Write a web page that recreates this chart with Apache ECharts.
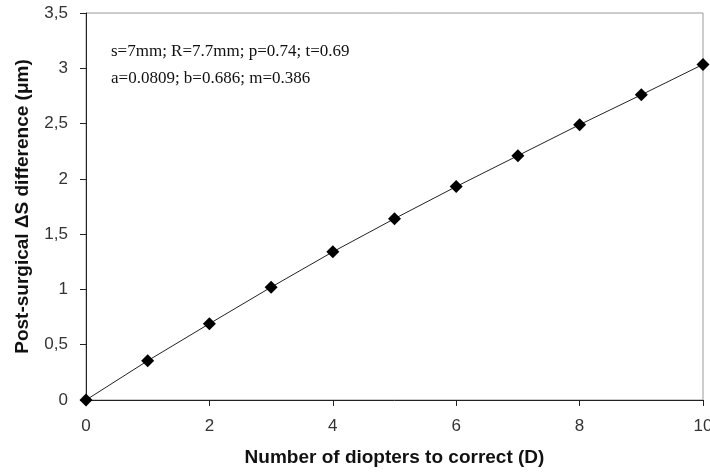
<!DOCTYPE html>
<html>
<head>
<meta charset="utf-8">
<script src="https://cdn.jsdelivr.net/npm/echarts@6/dist/echarts.min.js"></script>
<style>
  html, body { margin: 0; padding: 0; background: #fff; }
  #chart { width: 710px; height: 474px; }
</style>
</head>
<body>
<div id="chart"></div>
<script>
// diopters to correct
const diopters = [0, 1, 2, 3, 4, 5, 6, 7, 8, 9, 10]
// post-surgical delta S difference (um)
const deltaS = [0, 0.355, 0.69, 1.02, 1.34, 1.64, 1.93, 2.21, 2.49, 2.76, 3.035]
const noteLines = [
  's=7mm; R=7.7mm; p=0.74; t=0.69',
  'a=0.0809; b=0.686; m=0.386'
]

const chart = echarts.init(document.getElementById('chart'))

chart.setOption({
  animation: false,
  grid: {
    left: 86,
    right: 7,
    top: 13,
    bottom: 74,
    outerBoundsMode: 'none',
    show: true,
    borderColor: '#999',
    borderWidth: 1
  },
  xAxis: {
    type: 'value',
    min: 0,
    max: 10,
    interval: 2,
    name: 'Number of diopters to correct (D)',
    nameLocation: 'middle',
    nameGap: 48,
    nameTextStyle: { fontFamily: 'Liberation Sans', fontWeight: 'bold', fontSize: 19, color: '#111' },
    axisLine: { lineStyle: { color: '#222', width: 1 } },
    axisTick: { show: true, inside: false, length: 6, lineStyle: { color: '#222' } },
    axisLabel: { fontFamily: 'Liberation Sans', fontSize: 17, color: '#333', margin: 18 },
    splitLine: { show: false }
  },
  yAxis: {
    type: 'value',
    min: 0,
    max: 3.5,
    interval: 0.5,
    name: 'Post-surgical \u0394S difference (\u03bcm)',
    nameLocation: 'middle',
    nameGap: 54,
    nameTextStyle: { fontFamily: 'Liberation Sans', fontWeight: 'bold', fontSize: 19, color: '#111' },
    axisLine: { show: true, lineStyle: { color: '#222', width: 1 } },
    axisTick: { show: true, inside: false, length: 6, lineStyle: { color: '#222' } },
    axisLabel: {
      fontFamily: 'Liberation Sans',
      fontSize: 17,
      color: '#333',
      margin: 18,
      formatter: v => String(v).replace('.', ',')
    },
    splitLine: { show: false }
  },
  graphic: [{
    type: 'text',
    left: 111,
    top: 38,
    style: {
      text: noteLines.join('\n'),
      fontFamily: 'Liberation Serif',
      fontSize: 17,
      lineHeight: 27,
      fill: '#111'
    }
  }],
  series: [{
    type: 'line',
    data: diopters.map((d, i) => [d, deltaS[i]]),
    symbol: 'diamond',
    symbolSize: 13,
    itemStyle: { color: '#000' },
    lineStyle: { color: '#222', width: 1 },
    clip: false
  }]
})
</script>
</body>
</html>
